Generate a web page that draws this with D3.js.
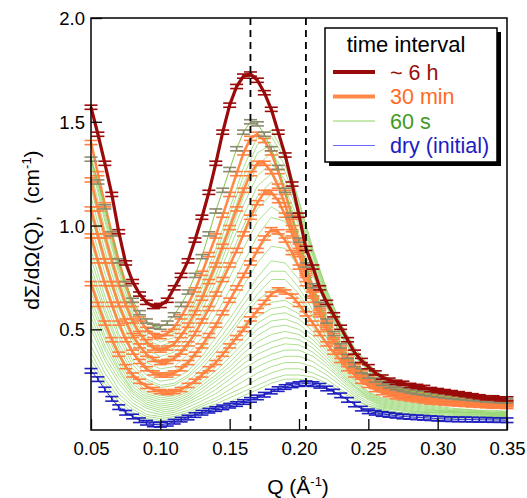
<!DOCTYPE html>
<html>
<head>
<meta charset="utf-8">
<script src="https://cdn.jsdelivr.net/npm/d3@7"></script>
<style>
  body { margin: 0; background: #fff; }
  svg { display: block; font-family: "Liberation Sans", Arial, sans-serif; }
</style>
</head>
<body>
<svg id="chart" width="527" height="498"></svg>
<script>
// Q grid of the measured curves (with error bars) and of the thin 60 s curves
var qFine = [0.050,0.055,0.060,0.065,0.070,0.075,0.080,0.085,0.090,0.095,
  0.100,0.105,0.110,0.115,0.120,0.125,0.130,0.135,0.140,0.145,
  0.150,0.155,0.160,0.165,0.170,0.175,0.180,0.185,0.190,0.195,
  0.200,0.205,0.210,0.215,0.220,0.225,0.230,0.235,0.240,0.245,
  0.250,0.255,0.260,0.265,0.270,0.275,0.280,0.285,0.290,0.295,
  0.300,0.305,0.310,0.315,0.320,0.325,0.330,0.335,0.340,0.345,0.350];
var qCoarse = [0.05,0.06,0.07,0.08,0.09,0.10,0.11,0.12,0.13,0.14,0.15,0.16,0.17,0.18,0.19,
  0.20,0.21,0.22,0.23,0.24,0.25,0.26,0.27,0.28,0.29,0.30,0.31,0.32,0.33,0.34,0.35];

var xTicks = [0.05,0.10,0.15,0.20,0.25,0.30,0.35];
var yTicks = [0.5,1.0,1.5,2.0];
var peakLines = [0.165,0.205];

// ~6 h
var red6h = [1.57,1.44,1.30,1.15,0.97,0.82,0.73,0.67,0.63,0.61,
  0.615,0.64,0.70,0.76,0.83,0.93,1.04,1.16,1.30,1.45,
  1.58,1.67,1.72,1.73,1.70,1.64,1.56,1.45,1.34,1.20,
  1.05,0.89,0.80,0.70,0.63,0.57,0.51,0.45,0.39,0.35,
  0.32,0.29,0.27,0.255,0.245,0.24,0.23,0.225,0.22,0.21,
  0.205,0.20,0.195,0.19,0.185,0.18,0.175,0.17,0.17,0.165,0.165];

// last 60 s curve drawn with grey error bars
var grey60s = [1.32,1.21,1.09,0.96,0.83,0.72,0.64,0.58,0.54,0.515,
  0.51,0.53,0.57,0.62,0.68,0.76,0.85,0.96,1.07,1.17,
  1.27,1.37,1.45,1.50,1.49,1.44,1.37,1.28,1.17,1.05,
  0.93,0.81,0.71,0.62,0.54,0.48,0.42,0.37,0.33,0.30,
  0.275,0.255,0.24,0.228,0.218,0.21,0.203,0.197,0.192,0.187,
  0.183,0.179,0.175,0.172,0.169,0.166,0.163,0.16,0.158,0.156,0.155];

// 30 min curves
var orange1 = [1.40,1.25,1.10,0.96,0.83,0.72,0.62,0.55,0.50,0.47,
  0.465,0.48,0.51,0.56,0.62,0.69,0.77,0.86,0.95,1.05,
  1.15,1.25,1.35,1.42,1.44,1.41,1.35,1.26,1.16,1.04,
  0.92,0.80,0.70,0.61,0.53,0.47,0.41,0.365,0.325,0.295,
  0.27,0.25,0.235,0.225,0.215,0.205,0.20,0.195,0.19,0.185,
  0.18,0.175,0.17,0.166,0.163,0.16,0.157,0.155,0.153,0.151,0.15];
var orange2 = [1.22,1.08,0.95,0.83,0.72,0.62,0.54,0.48,0.44,0.41,
  0.40,0.41,0.43,0.47,0.52,0.58,0.65,0.73,0.81,0.90,
  0.99,1.08,1.17,1.25,1.30,1.30,1.26,1.19,1.10,0.99,
  0.88,0.77,0.67,0.59,0.52,0.45,0.40,0.355,0.32,0.29,
  0.265,0.245,0.23,0.22,0.21,0.20,0.195,0.19,0.185,0.18,
  0.175,0.17,0.166,0.162,0.159,0.156,0.153,0.15,0.148,0.146,0.145];
var orange3 = [1.08,0.95,0.83,0.72,0.62,0.54,0.47,0.42,0.38,0.355,
  0.34,0.345,0.36,0.39,0.43,0.48,0.54,0.60,0.67,0.74,
  0.81,0.88,0.96,1.04,1.11,1.16,1.16,1.12,1.05,0.96,
  0.86,0.76,0.67,0.58,0.51,0.45,0.39,0.35,0.31,0.28,
  0.255,0.235,0.22,0.21,0.20,0.19,0.185,0.18,0.175,0.17,
  0.166,0.162,0.158,0.155,0.152,0.15,0.148,0.146,0.144,0.142,0.14];
var orange4 = [0.95,0.83,0.72,0.62,0.53,0.45,0.39,0.345,0.31,0.29,
  0.28,0.28,0.29,0.31,0.34,0.38,0.42,0.47,0.52,0.58,
  0.64,0.70,0.76,0.82,0.88,0.94,0.98,0.97,0.93,0.87,
  0.80,0.72,0.64,0.57,0.50,0.44,0.39,0.34,0.30,0.27,
  0.245,0.225,0.21,0.20,0.19,0.18,0.175,0.17,0.165,0.16,
  0.157,0.154,0.151,0.148,0.146,0.144,0.142,0.14,0.138,0.137,0.136];
var orange5 = [0.72,0.62,0.53,0.45,0.38,0.32,0.28,0.25,0.225,0.21,
  0.20,0.195,0.20,0.21,0.23,0.25,0.28,0.31,0.34,0.38,
  0.42,0.46,0.50,0.55,0.59,0.63,0.67,0.69,0.68,0.66,
  0.62,0.575,0.53,0.48,0.43,0.39,0.35,0.31,0.28,0.25,
  0.23,0.21,0.195,0.185,0.175,0.17,0.165,0.16,0.155,0.15,
  0.148,0.145,0.142,0.14,0.138,0.136,0.134,0.132,0.13,0.13,0.128];

// dry (initial)
var dryInit = [0.30,0.26,0.21,0.165,0.125,0.098,0.080,0.062,0.050,0.042,
  0.040,0.045,0.055,0.065,0.075,0.087,0.098,0.108,0.116,0.124,
  0.132,0.140,0.150,0.160,0.172,0.185,0.200,0.212,0.222,0.230,
  0.236,0.240,0.236,0.228,0.215,0.200,0.182,0.160,0.138,0.118,
  0.105,0.098,0.092,0.088,0.084,0.080,0.078,0.076,0.074,0.072,
  0.070,0.068,0.067,0.066,0.066,0.065,0.064,0.064,0.063,0.063,0.062];

// 60 s curves (on qCoarse)
var green60s = [
  [.33,.22,.13,.085,.06,.05,.06,.08,.10,.12,.15,.18,.21,.24,.26,.26,.25,.22,.18,.14,.11,.095,.085,.08,.075,.07,.07,.068,.066,.065,.065],
  [.36,.24,.15,.10,.07,.06,.07,.09,.12,.14,.17,.20,.23,.26,.28,.28,.27,.24,.20,.16,.13,.11,.10,.09,.085,.08,.08,.075,.075,.07,.07],
  [.39,.26,.17,.115,.08,.07,.08,.10,.13,.155,.19,.22,.26,.29,.31,.31,.29,.26,.21,.17,.13,.115,.10,.095,.09,.085,.08,.08,.078,.075,.075],
  [.42,.29,.19,.13,.09,.08,.09,.11,.14,.17,.21,.25,.29,.32,.34,.34,.32,.28,.23,.18,.14,.12,.11,.10,.095,.09,.085,.085,.08,.08,.08],
  [.46,.32,.21,.145,.105,.09,.10,.125,.155,.19,.235,.28,.32,.35,.37,.37,.345,.30,.245,.19,.15,.125,.115,.105,.10,.095,.09,.088,.085,.083,.082],
  [.50,.35,.24,.16,.12,.10,.11,.14,.17,.21,.26,.31,.35,.38,.40,.40,.37,.32,.26,.20,.16,.13,.12,.11,.10,.10,.095,.09,.09,.085,.085],
  [.53,.37,.26,.175,.13,.11,.12,.15,.185,.23,.28,.335,.38,.41,.43,.425,.39,.335,.27,.21,.165,.135,.125,.115,.105,.10,.098,.095,.092,.088,.088],
  [.56,.40,.28,.19,.14,.12,.13,.16,.20,.25,.30,.36,.41,.44,.46,.45,.41,.35,.28,.22,.17,.14,.13,.12,.11,.105,.10,.10,.095,.09,.09],
  [.59,.42,.30,.20,.15,.13,.14,.17,.215,.265,.32,.385,.44,.475,.49,.475,.43,.365,.29,.225,.175,.145,.135,.125,.115,.108,.103,.10,.098,.093,.093],
  [.62,.45,.31,.21,.16,.14,.15,.18,.23,.28,.34,.41,.47,.51,.52,.50,.45,.38,.30,.23,.18,.15,.14,.13,.12,.11,.105,.10,.10,.095,.095],
  [.65,.47,.33,.225,.17,.15,.16,.19,.245,.30,.365,.435,.50,.54,.55,.525,.47,.395,.31,.24,.185,.155,.145,.135,.125,.115,.108,.105,.103,.098,.098],
  [.68,.50,.35,.24,.18,.16,.17,.20,.26,.32,.39,.46,.53,.57,.58,.55,.49,.41,.32,.25,.19,.16,.15,.14,.13,.12,.11,.11,.105,.10,.10],
  [.71,.52,.37,.255,.19,.17,.18,.215,.275,.34,.415,.49,.56,.60,.61,.575,.51,.425,.33,.255,.195,.165,.155,.145,.135,.125,.115,.113,.108,.105,.103],
  [.74,.55,.39,.27,.20,.18,.19,.23,.29,.36,.44,.52,.59,.63,.64,.60,.53,.44,.34,.26,.20,.17,.16,.15,.14,.13,.12,.115,.11,.11,.105],
  [.77,.58,.41,.29,.22,.20,.21,.25,.31,.39,.47,.56,.64,.69,.70,.65,.56,.46,.36,.28,.22,.19,.17,.16,.15,.14,.135,.13,.125,.12,.12],
  [.80,.60,.43,.31,.25,.22,.23,.27,.33,.41,.49,.58,.67,.74,.74,.67,.57,.46,.37,.29,.24,.21,.19,.18,.17,.16,.155,.15,.145,.14,.14],
  [.84,.63,.46,.33,.26,.23,.24,.28,.35,.43,.52,.62,.71,.78,.78,.70,.59,.48,.38,.30,.25,.21,.19,.18,.17,.16,.155,.15,.145,.14,.14],
  [.88,.66,.48,.35,.28,.25,.26,.30,.37,.46,.55,.65,.75,.83,.82,.74,.62,.50,.40,.31,.26,.22,.20,.185,.175,.165,.16,.155,.15,.145,.14],
  [.92,.70,.51,.38,.30,.27,.28,.33,.40,.50,.60,.71,.82,.90,.89,.80,.67,.54,.42,.33,.27,.23,.21,.19,.18,.17,.165,.16,.155,.15,.145],
  [.96,.73,.54,.40,.32,.29,.30,.35,.43,.53,.64,.76,.88,.96,.95,.85,.71,.57,.44,.35,.28,.24,.21,.195,.185,.175,.165,.16,.155,.15,.145],
  [1.00,.77,.57,.43,.34,.31,.32,.38,.46,.57,.69,.82,.95,1.04,1.02,.91,.76,.61,.47,.37,.30,.25,.22,.20,.19,.18,.17,.165,.16,.155,.15],
  [1.05,.81,.60,.45,.36,.33,.35,.41,.50,.62,.75,.89,1.02,1.09,1.05,.93,.77,.61,.47,.37,.30,.25,.22,.20,.19,.18,.17,.165,.16,.155,.15],
  [1.10,.85,.63,.48,.38,.35,.37,.44,.53,.66,.80,.95,1.08,1.15,1.10,.96,.79,.62,.48,.38,.30,.25,.22,.205,.195,.185,.175,.17,.165,.16,.155],
  [1.14,.88,.66,.50,.40,.37,.39,.46,.56,.69,.84,1.00,1.14,1.21,1.15,1.00,.82,.64,.49,.38,.31,.26,.23,.21,.20,.185,.175,.17,.165,.16,.155],
  [1.18,.92,.69,.52,.42,.39,.41,.48,.59,.73,.89,1.05,1.19,1.25,1.18,1.02,.83,.65,.50,.39,.31,.26,.23,.21,.20,.19,.18,.17,.165,.16,.155],
  [1.22,.95,.72,.54,.44,.41,.43,.50,.62,.76,.93,1.10,1.24,1.30,1.22,1.05,.85,.66,.50,.39,.31,.26,.23,.21,.20,.19,.18,.17,.165,.16,.155],
  [1.26,.98,.74,.56,.45,.42,.44,.52,.64,.79,.96,1.14,1.29,1.35,1.26,1.07,.86,.67,.51,.40,.32,.27,.24,.22,.205,.19,.18,.175,.17,.165,.16],
  [1.30,1.02,.77,.58,.47,.44,.46,.54,.67,.83,1.01,1.20,1.35,1.39,1.29,1.09,.87,.68,.52,.40,.32,.27,.24,.22,.205,.19,.18,.175,.17,.165,.16],
  [1.32,1.04,.79,.60,.49,.46,.48,.56,.70,.86,1.05,1.24,1.39,1.43,1.32,1.11,.88,.69,.53,.41,.33,.28,.245,.225,.21,.20,.19,.18,.17,.165,.16],
  [1.34,1.06,.80,.61,.50,.47,.49,.58,.72,.89,1.08,1.28,1.43,1.46,1.34,1.12,.89,.69,.53,.41,.33,.28,.25,.23,.21,.20,.19,.18,.175,.17,.165]
];

var legendLabels = ["~ 6 h", "30 min", "60 s", "dry (initial)"];
var legendColors = ["#9a0e0e", "#ff6a22", "#3f9a22", "#1d1dbf"];

var svg = d3.select("#chart");
var x = d3.scaleLinear().domain([0.05, 0.35]).range([91, 507]);
var y = d3.scaleLinear().domain([0.015, 2.0]).range([430, 18]);

var line = d3.line().x(d => x(d[0])).y(d => y(d[1]));

// thin 60 s curves
svg.append("g").selectAll("path")
  .data(green60s)
  .enter().append("path")
  .attr("d", vals => line(vals.map((v, i) => [qCoarse[i], v])))
  .attr("fill", "none")
  .attr("stroke", "#8dd363")
  .attr("stroke-width", 0.8)
  .attr("stroke-opacity", 0.9);

function drawSeries(vals, color, barColor, width, err) {
  var pts = vals.map((v, i) => [qFine[i], v]);
  var g = svg.append("g");
  g.append("path")
    .attr("d", line(pts))
    .attr("fill", "none")
    .attr("stroke", color)
    .attr("stroke-width", width)
    .attr("stroke-linejoin", "round");
  var bars = g.selectAll("g.bar").data(pts).enter().append("g").attr("class", "bar");
  bars.append("line")
    .attr("x1", d => x(d[0])).attr("x2", d => x(d[0]))
    .attr("y1", d => y(d[1] - err)).attr("y2", d => y(d[1] + err));
  bars.append("line")
    .attr("x1", d => x(d[0]) - 6.5).attr("x2", d => x(d[0]) + 6.5)
    .attr("y1", d => y(d[1] - err)).attr("y2", d => y(d[1] - err));
  bars.append("line")
    .attr("x1", d => x(d[0]) - 6.5).attr("x2", d => x(d[0]) + 6.5)
    .attr("y1", d => y(d[1] + err)).attr("y2", d => y(d[1] + err));
  bars.selectAll("line").attr("stroke", barColor).attr("stroke-width", 1.6);
}

drawSeries(dryInit, "#2a2acc", "#1f1fbf", 1, 0.011);
drawSeries(orange5, "#ff8a48", "#ff8040", 2.6, 0.01);
drawSeries(orange4, "#ff8a48", "#ff8040", 2.6, 0.01);
drawSeries(orange3, "#ff8a48", "#ff8040", 2.6, 0.01);
drawSeries(orange2, "#ff8a48", "#ff8040", 2.6, 0.01);
drawSeries(orange1, "#ff8a48", "#ff8040", 2.6, 0.01);
drawSeries(grey60s, "#86c24a", "#8a8a6c", 1, 0.01);
drawSeries(red6h, "#990a0a", "#990a0a", 3.2, 0.01);

// dashed peak markers
svg.append("g").selectAll("line")
  .data(peakLines)
  .enter().append("line")
  .attr("x1", d => x(d)).attr("x2", d => x(d))
  .attr("y1", 18).attr("y2", 430)
  .attr("stroke", "#000")
  .attr("stroke-width", 1.8)
  .attr("stroke-dasharray", "7,5");

// axes
var xAxis = svg.append("g")
  .attr("transform", "translate(0,430)")
  .call(d3.axisBottom(x).tickValues(xTicks).tickFormat(d3.format(".2f"))
    .tickSizeInner(-11).tickSizeOuter(0).tickPadding(11));
var yAxis = svg.append("g")
  .attr("transform", "translate(91,0)")
  .call(d3.axisLeft(y).tickValues(yTicks).tickFormat(d3.format(".1f"))
    .tickSizeInner(-11).tickSizeOuter(0).tickPadding(6));
[xAxis, yAxis].forEach(a => {
  a.select(".domain").remove();
  a.selectAll(".tick line").attr("stroke", "#000").attr("stroke-width", 1.3);
  a.selectAll(".tick text").attr("fill", "#000").style("font-size", "18.5px")
    .style("font-family", "'Liberation Sans', Arial, sans-serif");
});
xAxis.selectAll(".tick text").attr("dy", "0.78em");
yAxis.selectAll(".tick text").attr("dy", "0.35em");

svg.append("rect")
  .attr("x", 91).attr("y", 18).attr("width", 416).attr("height", 412)
  .attr("fill", "none").attr("stroke", "#000").attr("stroke-width", 1.5);

// axis titles
svg.append("text")
  .attr("x", 298).attr("y", 494)
  .attr("text-anchor", "middle")
  .style("font-size", "21px")
  .html('Q (Å<tspan dy="-8" font-size="13px">-1</tspan><tspan dy="8">)</tspan>');

svg.append("text")
  .attr("transform", "translate(39,230) rotate(-90)")
  .attr("text-anchor", "middle")
  .style("font-size", "21px")
  .attr("xml:space", "preserve")
  .html('dΣ/dΩ(Q),  (cm<tspan dy="-8" font-size="13px">-1</tspan><tspan dy="8">)</tspan>');

// legend
var lg = svg.append("g");
lg.append("rect").attr("x", 329).attr("y", 32).attr("width", 172).attr("height", 134).attr("fill", "#000");
lg.append("rect").attr("x", 325).attr("y", 28).attr("width", 172).attr("height", 134)
  .attr("fill", "#fff").attr("stroke", "#000").attr("stroke-width", 1.5);
lg.append("text").attr("x", 406).attr("y", 52).attr("text-anchor", "middle")
  .style("font-size", "22px").text("time interval");
var legendWidths = [4, 4, 1, 1.2];
var legendLine = ["#990a0a", "#ff8a48", "#8dd363", "#6a6aff"];
var rows = lg.selectAll("g.row").data(legendLabels).enter().append("g")
  .attr("transform", (d, i) => "translate(0," + (72 + i * 24.5) + ")");
rows.append("line").attr("x1", 333).attr("x2", 375).attr("y1", 0).attr("y2", 0)
  .attr("stroke", (d, i) => legendLine[i]).attr("stroke-width", (d, i) => legendWidths[i]);
rows.append("text").attr("x", 390).attr("y", 7.5)
  .style("font-size", "21.5px")
  .attr("fill", (d, i) => legendColors[i])
  .text(d => d);
</script>
</body>
</html>
